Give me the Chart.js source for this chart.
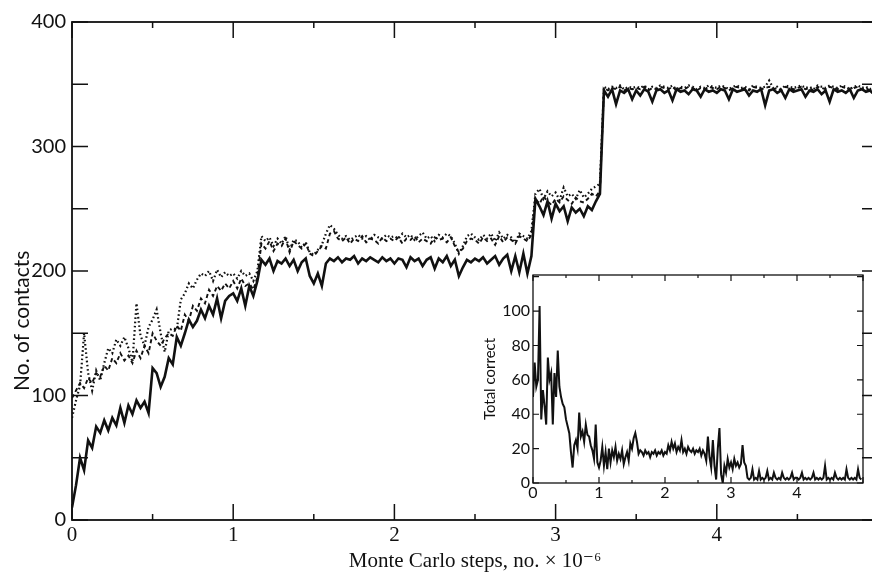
<!DOCTYPE html>
<html><head><meta charset="utf-8">
<script src="https://cdn.jsdelivr.net/npm/chart.js@4"></script>
<style>
html,body{margin:0;padding:0;background:#fff;overflow:hidden;width:872px;height:574px}
#wrap{position:relative;width:872px;height:574px;overflow:hidden}
#main{position:absolute;left:0;top:0}
#inset{position:absolute;left:470px;top:262px}
</style></head><body>
<div id="wrap">
<canvas id="main" width="880" height="574"></canvas>
<canvas id="inset" width="402" height="250"></canvas>
</div>
<script>
// Monte Carlo steps (x 10^-6)
const steps = [
0,0.025,0.05,0.075,0.1,0.125,0.15,0.175,0.2,0.225,0.25,0.275,0.3,0.325,0.35,0.375,0.4,0.425,0.45,0.475,
0.5,0.525,0.55,0.575,0.6,0.625,0.65,0.675,0.7,0.725,0.75,0.775,0.8,0.825,0.85,0.875,0.9,0.925,0.95,0.975,
1,1.025,1.05,1.075,1.1,1.125,1.15,1.175,1.2,1.225,1.25,1.275,1.3,1.325,1.35,1.375,1.4,1.425,1.45,1.475,
1.5,1.525,1.55,1.575,1.6,1.625,1.65,1.675,1.7,1.725,1.75,1.775,1.8,1.825,1.85,1.875,1.9,1.925,1.95,1.975,
2,2.025,2.05,2.075,2.1,2.125,2.15,2.175,2.2,2.225,2.25,2.275,2.3,2.325,2.35,2.375,2.4,2.425,2.45,2.475,
2.5,2.525,2.55,2.575,2.6,2.625,2.65,2.675,2.7,2.725,2.75,2.775,2.8,2.825,2.85,2.875,2.9,2.925,2.95,2.975,
3,3.025,3.05,3.075,3.1,3.125,3.15,3.175,3.2,3.225,3.25,3.275,3.3,3.325,3.35,3.375,3.4,3.425,3.45,3.475,
3.5,3.525,3.55,3.575,3.6,3.625,3.65,3.675,3.7,3.725,3.75,3.775,3.8,3.825,3.85,3.875,3.9,3.925,3.95,3.975,
4,4.025,4.05,4.075,4.1,4.125,4.15,4.175,4.2,4.225,4.25,4.275,4.3,4.325,4.35,4.375,4.4,4.425,4.45,4.475,
4.5,4.525,4.55,4.575,4.6,4.625,4.65,4.675,4.7,4.725,4.75,4.775,4.8,4.825,4.85,4.875,4.9,4.925,4.95,4.975];

// No. of contacts – solid curve
const contactsSolid = [
10,28,50,40,64,58,75,70,80,72,82,76,90,78,92,85,96,90,95,86,
122,118,107,115,130,125,147,140,150,161,155,160,169,162,172,165,178,162,176,180,
182,176,186,172,188,180,192,209,205,210,200,208,206,210,204,209,200,207,210,196,
190,198,188,206,210,208,211,207,210,209,212,206,210,208,211,209,207,211,208,210,
206,210,209,203,211,208,210,204,209,211,202,210,207,212,204,209,196,203,209,207,
210,208,211,206,209,212,205,210,213,200,212,199,214,198,212,258,252,245,256,242,
254,248,252,240,251,247,250,244,252,249,256,262,345,340,346,334,345,343,346,338,
345,341,346,344,336,345,346,343,345,337,346,344,345,342,346,345,340,346,344,345,
343,346,345,338,346,344,345,346,341,345,344,346,333,345,346,343,345,339,346,344,
345,346,340,345,344,346,342,345,336,346,344,345,343,346,339,345,346,344,345,342];

// No. of contacts – dashed curve
const contactsDashed = [
98,104,110,106,114,110,118,115,124,120,130,126,134,128,132,126,136,130,140,134,
150,144,140,146,150,148,156,152,165,160,172,168,178,174,185,180,188,184,190,186,
192,186,194,188,190,185,195,222,218,224,216,222,220,226,215,224,221,218,222,214,
212,216,220,218,230,232,226,224,227,222,226,224,228,223,226,225,222,227,224,226,
224,227,222,226,225,228,223,226,224,222,227,225,226,223,227,220,215,218,224,226,
225,222,227,224,226,221,228,223,227,225,222,228,226,224,229,258,254,260,256,253,
258,255,260,257,254,259,256,255,258,262,260,264,347,345,347,346,348,345,347,346,
347,346,348,345,347,346,348,347,346,348,345,347,346,348,347,345,347,346,348,347,
346,348,347,345,347,348,346,347,345,348,347,346,347,348,346,347,345,348,347,346,
347,348,346,347,345,348,347,346,348,347,346,348,347,345,347,348,346,347,345,347];

// No. of contacts – dotted curve
const contactsDotted = [
82,96,108,150,118,104,120,112,126,138,134,145,140,147,138,127,174,148,140,155,
161,169,150,135,152,154,153,177,182,190,186,193,198,196,200,192,201,195,199,196,
198,194,200,196,198,192,200,228,224,227,220,226,222,228,217,225,224,219,223,215,
213,217,221,230,237,234,229,226,228,225,227,229,226,228,225,229,227,226,229,227,
228,226,230,227,229,225,228,231,226,228,224,229,227,230,228,222,214,220,228,230,
227,225,229,226,230,224,231,226,229,227,223,230,228,226,232,262,266,258,264,260,
263,257,267,260,262,258,265,259,262,266,268,270,348,346,348,347,349,346,348,347,
348,347,349,346,348,347,349,348,347,349,346,348,347,349,348,346,348,347,349,348,
347,349,348,346,348,349,347,348,346,349,348,347,348,353,347,348,346,349,348,347,
348,349,347,348,346,349,348,347,349,348,347,349,348,346,348,349,347,348,346,348];

// Inset: Total correct
const totalCorrect = [
50,70,56,60,103,37,54,45,34,73,60,64,34,64,50,77,56,50,46,44,
37,33,29,18,9,22,25,20,41,27,30,24,34,28,27,22,19,14,34,12,
9,13,21,10,18,8,20,12,19,15,21,13,17,14,19,11,15,18,13,23,
20,26,29,24,17,19,18,16,19,17,18,15,18,17,19,16,18,17,19,16,
18,17,22,19,24,20,23,18,21,19,25,18,20,17,21,19,18,20,17,19,
18,20,16,19,17,13,27,15,9,25,10,2,20,32,5,0,10,6,14,9,
12,8,14,10,12,9,11,22,12,10,3,2,3,8,2,3,2,7,2,3,
2,3,7,2,3,2,6,3,2,3,2,6,3,2,3,2,3,6,2,3,
3,2,3,6,2,3,2,3,2,3,6,2,3,2,3,2,3,10,2,3,
2,3,2,6,3,2,3,2,3,2,8,3,2,3,2,3,2,8,3,2];

// Tick labels and tick marks
const mainYTicks = [0,100,200,300,400];
const mainXTicks = [0,1,2,3,4];
const mainYMarks = [0,50,100,150,200,250,300,350,400];
const mainXMajor = [0,1,2,3,4,5];
const mainXMinor = [0.5,1.5,2.5,3.5,4.5];
const insetYTicks = [0,20,40,60,80,100];
const insetXTicks = [0,1,2,3,4];
const insetYMarks = [0,20,40,60,80,100,120];
const insetXMajor = [0,1,2,3,4,5];
const insetXMinor = [0.5,1.5,2.5,3.5,4.5];

const INK = '#111';
const SANS = 'Lato, "Open Sans", sans-serif';
const SERIF = '"Liberation Serif", "DejaVu Serif", serif';

function pts(ys){ return steps.map((s,i)=>({x:s,y:ys[i]})); }

function framePlugin(cfg){
  return {
    id: 'frame',
    afterDatasetsDraw(chart){
      const {ctx, chartArea:a, scales:{x, y}} = chart;
      ctx.save();
      ctx.strokeStyle = INK;
      ctx.lineWidth = cfg.frameWidth;
      ctx.strokeRect(a.left, a.top, a.right - a.left, a.bottom - a.top);
      ctx.lineWidth = cfg.tickWidth;
      ctx.beginPath();
      cfg.yMarks.forEach(v=>{
        const py = y.getPixelForValue(v);
        ctx.moveTo(a.left, py); ctx.lineTo(a.left + cfg.yLen, py);
        ctx.moveTo(a.right, py); ctx.lineTo(a.right - cfg.yLen, py);
      });
      cfg.xMajor.forEach(v=>{
        const px = x.getPixelForValue(v);
        ctx.moveTo(px, a.bottom); ctx.lineTo(px, a.bottom - cfg.xLen);
        ctx.moveTo(px, a.top); ctx.lineTo(px, a.top + cfg.xLen);
      });
      cfg.xMinor.forEach(v=>{
        const px = x.getPixelForValue(v);
        ctx.moveTo(px, a.bottom); ctx.lineTo(px, a.bottom - cfg.xMinorLen);
        ctx.moveTo(px, a.top); ctx.lineTo(px, a.top + cfg.xMinorLen);
      });
      ctx.stroke();
      if (cfg.yTitle){
        ctx.fillStyle = INK;
        ctx.font = cfg.yTitleFont;
        ctx.textAlign = 'center';
        ctx.textBaseline = 'middle';
        ctx.translate(cfg.yTitleX, a.top + (a.bottom - a.top) * 0.6);
        ctx.rotate(-Math.PI/2);
        ctx.fillText(cfg.yTitle, 0, 0);
      }
      ctx.restore();
    }
  };
}

new Chart(document.getElementById('main'), {
  type: 'line',
  data: { datasets: [
    { data: pts(contactsSolid), borderColor: INK, borderWidth: 2.6, pointRadius: 0, tension: 0 },
    { data: pts(contactsDashed), borderColor: INK, borderWidth: 1.9, borderDash: [4,3], pointRadius: 0, tension: 0 },
    { data: pts(contactsDotted), borderColor: INK, borderWidth: 2.2, borderDash: [1.6,2.6], pointRadius: 0, tension: 0 }
  ]},
  options: {
    responsive: false, animation: false, devicePixelRatio: 1,
    layout: { padding: { left: 0, top: 22, right: 2, bottom: 0 } },
    plugins: { legend: { display: false }, tooltip: { enabled: false } },
    scales: {
      x: {
        type: 'linear', min: 0, max: 5,
        afterBuildTicks(s){ s.ticks = mainXTicks.map(v=>({value:v})); },
        afterFit(s){ s.height = 54; },
        grid: { display: false, drawTicks: false }, border: { display: false },
        ticks: { padding: 3, color: INK, autoSkip: false, maxRotation: 0, font: { family: SERIF, size: 21 } },
        title: { display: true, text: 'Monte Carlo steps, no. × 10⁻⁶', color: INK, font: { family: SERIF, size: 21 }, padding: { top: 0, bottom: 0 } }
      },
      y: {
        min: 0, max: 400,
        afterBuildTicks(s){ s.ticks = mainYTicks.map(v=>({value:v})); },
        afterFit(s){ s.width = 72; },
        grid: { display: false, drawTicks: false }, border: { display: false },
        ticks: { padding: 6, color: INK, font: { family: SANS, size: 20 } }
      }
    }
  },
  plugins: [framePlugin({ frameWidth: 1.8, tickWidth: 1.5, yMarks: mainYMarks, xMajor: mainXMajor, xMinor: mainXMinor,
    yLen: 16, xLen: 16, xMinorLen: 6, yTitle: 'No. of contacts', yTitleFont: '21px ' + SANS, yTitleX: 22 })]
});

new Chart(document.getElementById('inset'), {
  type: 'line',
  data: { datasets: [
    { data: pts(totalCorrect), borderColor: INK, borderWidth: 2, pointRadius: 0, tension: 0 }
  ]},
  options: {
    responsive: false, animation: false, devicePixelRatio: 1,
    layout: { padding: { left: 0, top: 13, right: 9, bottom: 0 } },
    plugins: { legend: { display: false }, tooltip: { enabled: false } },
    scales: {
      x: {
        type: 'linear', min: 0, max: 5,
        afterBuildTicks(s){ s.ticks = insetXTicks.map(v=>({value:v})); },
        afterFit(s){ s.height = 29; },
        grid: { display: false, drawTicks: false }, border: { display: false },
        ticks: { padding: 0, color: INK, autoSkip: false, maxRotation: 0, font: { family: SANS, size: 16 } }
      },
      y: {
        min: 0, max: 121,
        afterBuildTicks(s){ s.ticks = insetYTicks.map(v=>({value:v})); },
        afterFit(s){ s.width = 63; },
        grid: { display: false, drawTicks: false }, border: { display: false },
        ticks: { padding: 3, color: INK, font: { family: SANS, size: 16 } },
        title: { display: true, text: 'Total correct', color: INK, font: { family: SANS, size: 15 }, padding: { top: 11, bottom: 0 } }
      }
    }
  },
  plugins: [framePlugin({ frameWidth: 1.3, tickWidth: 1.2, yMarks: insetYMarks, xMajor: insetXMajor, xMinor: insetXMinor,
    yLen: 6, xLen: 6, xMinorLen: 3 })]
});
</script>
</body></html>
